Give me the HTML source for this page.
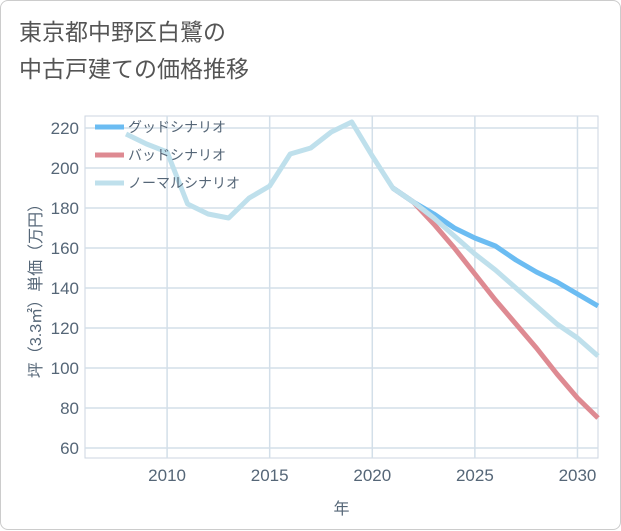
<!DOCTYPE html>
<html><head><meta charset="utf-8">
<style>
body{margin:0;background:#fff;}
#wrap{position:relative;width:619px;height:528px;border:1px solid #ccc;border-radius:8px;background:#fff;font-family:"Liberation Sans","Noto Sans CJK JP",sans-serif;}
#title{position:absolute;left:18px;top:13px;font-size:23px;line-height:37px;color:#555;}
svg{position:absolute;left:0;top:0;}
</style></head><body>
<div id="wrap">
<div id="title">東京都中野区白鷺の<br>中古戸建ての価格推移</div>
<svg id="chart" width="621" height="530"></svg>
</div>
<script>
const years=[2008,2009,2010,2011,2012,2013,2014,2015,2016,2017,2018,2019,2020,2021,2022,2023,2024,2025,2026,2027,2028,2029,2030,2031];
const normal=[217,212,208,182,177,175,185,191,207,210,218,223,206,190,183,175,166,157,149,140,131,122,115,106];
const goodYears=[2021,2022,2023,2024,2025,2026,2027,2028,2029,2030,2031];
const good=[190,183,177,170,165,161,154,148,143,137,131];
const badYears=[2021,2022,2023,2024,2025,2026,2027,2028,2029,2030,2031];
const bad=[190,183,172,160,147,134,122,110,97,85,75];
const xTicks=[2010,2015,2020,2025,2030];
const yTicks=[60,80,100,120,140,160,180,200,220];
const L=84,R=597,T=115,B=457;
const x=v=>L+(v-2006)/(2031-2006)*(R-L);
const y=v=>B-(v-55)/(226-55)*(B-T);
const svg=document.getElementById('chart');
const NS='http://www.w3.org/2000/svg';
function mk(t,a){const e=document.createElementNS(NS,t);for(const k in a)e.setAttribute(k,a[k]);svg.appendChild(e);return e;}
const frame=mk('rect',{x:L,y:T,width:R-L,height:B-T,fill:'none',stroke:'#ccd6e0'});


xTicks.forEach(v=>{const g=mk('line',{x1:x(v),x2:x(v),y1:T,y2:B,stroke:'#d3dfe9','stroke-width':1.5});


const t=mk('text',{x:x(v),y:B+23,'text-anchor':'middle','font-size':17,fill:'#556677'});t.textContent=v;

});
yTicks.forEach(v=>{const g=mk('line',{x1:L,x2:R,y1:y(v),y2:y(v),stroke:'#d3dfe9','stroke-width':1.5});


const t=mk('text',{x:L-6,y:y(v)+6,'text-anchor':'end','font-size':17,fill:'#556677'});t.textContent=v;

});
const xt=mk('text',{x:(L+R)/2,y:513,'text-anchor':'middle','font-size':16,fill:'#556677'});xt.textContent='年';


const yt=mk('text',{x:0,y:0,'text-anchor':'middle','font-size':16,fill:'#556677',transform:'translate(40,286) rotate(-90)'});yt.textContent='坪（3.3㎡）単価（万円）';


function line(xs,vs,color,name){const p=mk('polyline',{points:xs.map((v,i)=>x(v)+','+y(vs[i])).join(' '),fill:'none',stroke:color,'stroke-width':5,'stroke-linejoin':'round'});

}
line(badYears,bad,'#de8a92','bad-scenario-line');
line(goodYears,good,'#6bbcf2','good-scenario-line');
line(years,normal,'#bfe0ec','normal-scenario-line');
const leg=[['グッドシナリオ','#6bbcf2'],['バッドシナリオ','#de8a92'],['ノーマルシナリオ','#bfe0ec']];
leg.forEach((d,i)=>{const yy=126+i*28;
const l=mk('line',{x1:94,x2:123,y1:yy,y2:yy,stroke:d[1],'stroke-width':5});


const t=mk('text',{x:127,y:yy+5,'font-size':14,fill:'#556677'});t.textContent=d[0];

});
</script>
</body></html>
